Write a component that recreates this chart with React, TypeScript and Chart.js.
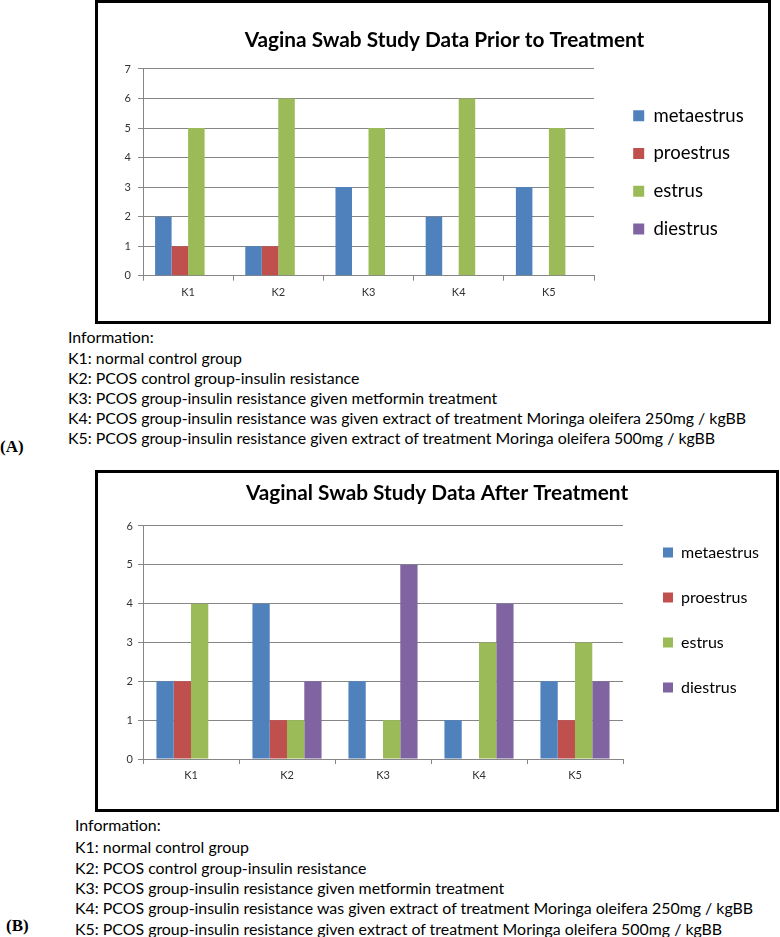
import React, { useEffect, useRef } from "react";
import { Chart, registerables } from "chart.js";

Chart.register(...registerables);

// ---------- data ----------
const categories = ["K1", "K2", "K3", "K4", "K5"];
const seriesNames = ["metaestrus", "proestrus", "estrus", "diestrus"];
const seriesColors = ["#4F81BD", "#C0504D", "#9BBB59", "#8064A2"];

const priorMetaestrus = [2, 1, 3, 2, 3];
const priorProestrus = [1, 1, 0, 0, 0];
const priorEstrus = [5, 6, 5, 6, 5];
const priorDiestrus = [0, 0, 0, 0, 0];

const afterMetaestrus = [2, 4, 2, 1, 2];
const afterProestrus = [2, 1, 0, 0, 1];
const afterEstrus = [4, 1, 1, 3, 3];
const afterDiestrus = [0, 2, 5, 4, 2];

const priorYMax = 7;
const afterYMax = 6;

const titlePrior = "Vagina Swab Study Data Prior to Treatment";
const titleAfter = "Vaginal Swab Study Data After Treatment";

const infoLines = [
  "Information:",
  "K1: normal control group",
  "K2: PCOS control group-insulin resistance",
  "K3: PCOS group-insulin resistance given metformin treatment",
  "K4: PCOS group-insulin resistance was given extract of treatment Moringa oleifera 250mg / kgBB",
  "K5: PCOS group-insulin resistance given extract of treatment Moringa oleifera 500mg / kgBB",
];

const GRID = "#868686";
const FONT = "Lato, 'Open Sans', sans-serif";
const TITLE_SIZE = 20.8;

type Layout = {
  series: number[][];
  yMax: number;
  title: string;
  left: number; // canvas absolute left
  top: number; // canvas absolute top
  width: number;
  height: number;
  plotLeft: number; // absolute x of plot area left
  plotRight: number; // absolute x of plot area right
  xHeight: number;
  padBottom: number;
  spacer: number;
  legendFont: number;
  legendPad: number;
  legendBox: number;
  legendFull: boolean;
  titleTop: number;
  titleBottom: number;
  yTickPad: number;
  catPct: number;
};

function textWidth(text: string, font: string): number {
  const ctx = document.createElement("canvas").getContext("2d");
  if (!ctx) return text.length * 8;
  ctx.font = font;
  return ctx.measureText(text).width;
}

function makeConfig(p: Layout): any {
  const maxText = Math.max(...seriesNames.map((n) => textWidth(n, `${p.legendFont}px ${FONT}`)));
  // Chart.js vertical legend width = padding + box + font/2 + text + 10
  const legendWidth = p.legendPad + p.legendBox + p.legendFont / 2 + maxText + 10;
  const canvasRight = p.left + p.width;
  const outerSpacer = Math.max(0, canvasRight - (p.plotRight + p.spacer + legendWidth));
  const yWidth = p.plotLeft - p.left;
  return {
    type: "bar",
    data: {
      labels: categories,
      datasets: seriesNames.map((name, i) => ({
        label: name,
        data: p.series[i],
        backgroundColor: seriesColors[i],
        borderWidth: 0,
        categoryPercentage: p.catPct,
        barPercentage: 1,
        yAxisID: "y",
      })),
    },
    options: {
      responsive: false,
      animation: false,
      devicePixelRatio: 1,
      layout: { padding: { left: 0, top: 0, right: 0, bottom: p.padBottom } },
      plugins: {
        tooltip: { enabled: false },
        title: {
          display: true,
          text: p.title,
          color: "#000",
          font: { family: FONT, size: TITLE_SIZE, weight: "bold", lineHeight: 1.2 },
          padding: { top: p.titleTop, bottom: p.titleBottom },
        },
        legend: {
          display: true,
          position: "right",
          align: "center",
          fullSize: p.legendFull,
          maxWidth: 400,
          labels: {
            color: "#000",
            boxWidth: p.legendBox,
            boxHeight: p.legendBox,
            padding: p.legendPad,
            font: { family: FONT, size: p.legendFont },
          },
        },
      },
      scales: {
        x: {
          type: "category",
          offset: true,
          grid: {
            display: true,
            offset: true,
            drawOnChartArea: false,
            drawTicks: true,
            tickLength: 5,
            color: GRID,
          },
          border: { display: true, color: GRID },
          ticks: { color: "#333", padding: 5, font: { family: FONT, size: 11 } },
          afterFit: (s: any) => {
            s.height = p.xHeight;
          },
        },
        y: {
          type: "linear",
          position: "left",
          min: 0,
          max: p.yMax,
          grid: { color: GRID, tickLength: 5, drawTicks: true },
          border: { display: true, color: GRID },
          ticks: { stepSize: 1, color: "#333", padding: p.yTickPad, font: { family: FONT, size: 11 } },
          afterFit: (s: any) => {
            s.width = yWidth;
          },
        },
        spacer: {
          type: "linear",
          position: "right",
          display: true,
          weight: 0,
          grid: { display: false },
          border: { display: false },
          ticks: { display: false },
          afterFit: (s: any) => {
            s.width = p.spacer;
          },
        },
        outer: {
          type: "linear",
          position: "right",
          display: true,
          weight: 3000,
          grid: { display: false },
          border: { display: false },
          ticks: { display: false },
          afterFit: (s: any) => {
            s.width = outerSpacer;
          },
        },
      },
    },
  };
}

function BarChart({ layout }: { layout: Layout }) {
  const ref = useRef<HTMLCanvasElement | null>(null);
  useEffect(() => {
    if (!ref.current) return;
    const chart = new Chart(ref.current, makeConfig(layout));
    return () => chart.destroy();
  }, []);
  return (
    <canvas
      ref={ref}
      width={layout.width}
      height={layout.height}
      style={{
        position: "absolute",
        left: layout.left,
        top: layout.top,
        width: layout.width,
        height: layout.height,
      }}
    />
  );
}

const layoutPrior: Layout = {
  series: [priorMetaestrus, priorProestrus, priorEstrus, priorDiestrus],
  yMax: priorYMax,
  title: titlePrior,
  left: 118,
  top: 2,
  width: 653,
  height: 318,
  plotLeft: 143,
  plotRight: 594,
  xHeight: 30,
  padBottom: 14.3,
  spacer: 20,
  legendFont: 18.5,
  legendPad: 19.2,
  legendBox: 11,
  legendFull: false,
  titleTop: 25.5,
  titleBottom: 16.5,
  yTickPad: 7,
  catPct: 0.732,
};

const layoutAfter: Layout = {
  series: [afterMetaestrus, afterProestrus, afterEstrus, afterDiestrus],
  yMax: afterYMax,
  title: titleAfter,
  left: 100,
  top: 451,
  width: 674,
  height: 349,
  plotLeft: 143,
  plotRight: 623,
  xHeight: 30,
  padBottom: 11,
  spacer: 11,
  legendFont: 16,
  legendPad: 29,
  legendBox: 10,
  legendFull: true,
  titleTop: 29.5,
  titleBottom: 20.5,
  yTickPad: 5,
  catPct: 0.72,
};

function InfoBlock({ left, tops }: { left: number; tops: number[] }) {
  return (
    <>
      {infoLines.map((t, i) => (
        <div
          key={i}
          style={{
            position: "absolute",
            left,
            top: tops[i] - 10,
            height: 20,
            lineHeight: "20px",
            fontFamily: FONT,
            fontSize: 15.9,
            color: "#000",
            whiteSpace: "nowrap",
          }}
        >
          {t}
        </div>
      ))}
    </>
  );
}

export default function App() {
  const boxStyle: React.CSSProperties = {
    position: "absolute",
    border: "3px solid #000",
    boxSizing: "border-box",
  };
  const panelLabel: React.CSSProperties = {
    position: "absolute",
    fontFamily: "'Liberation Serif', 'Times New Roman', serif",
    fontWeight: "bold",
    fontSize: 17,
    lineHeight: "20px",
    color: "#000",
  };
  return (
    <div
      style={{
        position: "absolute",
        left: 0,
        top: 0,
        width: 780,
        height: 937,
        background: "#fff",
        overflow: "hidden",
      }}
    >
      <div style={{ ...boxStyle, left: 95, top: 0, width: 676, height: 324 }} />
      <div style={{ ...boxStyle, left: 95, top: 470, width: 684, height: 342 }} />
      <BarChart layout={layoutPrior} />
      <BarChart layout={layoutAfter} />
      <InfoBlock left={68} tops={[337, 358, 378, 398, 418, 438]} />
      <InfoBlock left={75} tops={[825, 847, 868, 888, 908, 929]} />
      <div style={{ ...panelLabel, left: 0, top: 437 }}>(A)</div>
      <div style={{ ...panelLabel, left: 6, top: 916 }}>(B)</div>
    </div>
  );
}
